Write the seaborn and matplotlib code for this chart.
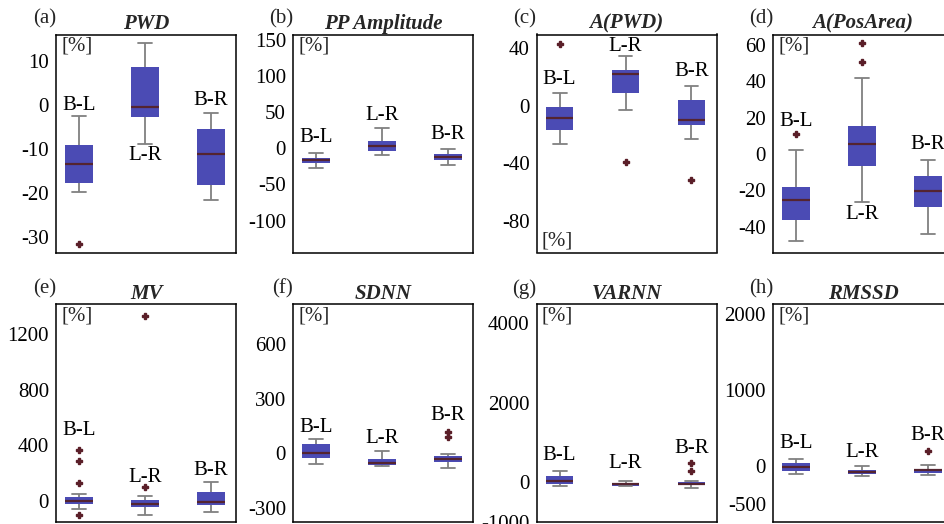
import numpy as np
import pandas as pd
import matplotlib
matplotlib.use("Agg")
import matplotlib.pyplot as plt
import seaborn as sns

groups = ["B-L", "L-R", "B-R"]

# five-number summaries per group: [lower whisker, Q1, median, Q3, upper whisker]
pwd_stats = [[-19.8, -17.6, -13.3, -9.1, -2.5], [-8.7, -2.6, -0.5, 8.6, 14.0], [-21.6, -18.1, -11.0, -5.5, -1.7]]
pwd_outliers = [[-31.4], [], []]
pp_stats = [[-27, -21, -16.7, -13, -6], [-9.7, -3.7, 2.8, 9.3, 27.5], [-23, -16.7, -12, -7.4, -1.4]]
pp_outliers = [[], [], []]
apwd_stats = [[-26.9, -17, -8.5, -0.9, 8.8], [-2.8, 8.8, 22, 24.3, 34], [-23, -13.3, -10.1, 4.1, 13.3]]
apwd_outliers = [[42.3], [-39.1], [-51.5]]
aposarea_stats = [[-47.7, -36.2, -25.3, -18.2, 2], [-26.4, -6.7, 5.6, 15.1, 41.5], [-43.7, -29.1, -20.4, -11.9, -3.4]]
aposarea_outliers = [[10.9], [61, 50.6], []]
mv_stats = [[-55, -19, 2, 29, 52], [-98, -38, -19, 12, 41], [-79, -27, -7, 65, 141]]
mv_outliers = [[370, 292, 131, -100], [1324, 105], []]
sdnn_stats = [[-60, -27, 4, 49, 77], [-71, -64, -51, -31, 11], [-82, -47, -29, -14, -2]]
sdnn_outliers = [[], [], [118, 88]]
varnn_stats = [[-100, -33, 33, 168, 277], [-100, -93, -55, -25, 42], [-134, -67, -33, 0, 25]]
varnn_outliers = [[], [], [478, 294]]
rmssd_stats = [[-105, -62, -9, 39, 96], [-122, -101, -75, -43, 9], [-109, -88, -52, -30, 17]]
rmssd_outliers = [[], [], [206]]

panel_letters = ["(a)", "(b)", "(c)", "(d)", "(e)", "(f)", "(g)", "(h)"]
panel_titles = ["PWD", "PP Amplitude", "A(PWD)", "A(PosArea)", "MV", "SDNN", "VARNN", "RMSSD"]
panel_stats = [pwd_stats, pp_stats, apwd_stats, aposarea_stats, mv_stats, sdnn_stats, varnn_stats, rmssd_stats]
panel_outliers = [pwd_outliers, pp_outliers, apwd_outliers, aposarea_outliers, mv_outliers,
                  sdnn_outliers, varnn_outliers, rmssd_outliers]
panel_ticks = [[-30, -20, -10, 0, 10], [-100, -50, 0, 50, 100, 150], [-80, -40, 0, 40],
               [-40, -20, 0, 20, 40, 60], [0, 400, 800, 1200], [-300, 0, 300, 600],
               [-1000, 0, 2000, 4000], [-500, 0, 1000, 2000]]

# layout / annotation placement (not data)
panel_ylims = [(-33.4, 16), (-144, 157), (-101.8, 49.2), (-54, 65.5),
               (-150, 1411), (-377, 816), (-1006, 4470), (-735, 2123)]
label_y = [[-0.15, -11.5, 1.0], [14.8, 44.9, 19.4], [17.9, 40.9, 23.7], [17.9, -33.2, 5.1],
           [507, 172, 220], [141, 80, 208], [672, 461, 838], [293, 184, 403]]
pct_bottom = [False, False, True, False, False, False, False, False]


def sample(stats, outs, k=20):
    lo, q1, med, q3, hi = stats
    return [lo] + [q1] * k + [med] * k + [q3] * k + [hi] + list(outs)


sns.set_theme(style="white")
plt.rcParams["font.family"] = ["Liberation Serif", "DejaVu Serif"]

W, H = 944, 524
fig = plt.figure(figsize=(W / 100, H / 100), dpi=100)
col_left = [56, 293, 536.5, 773]
col_w = 180
row_top = [34.5, 304.3]
row_h = 218

box_face = "#4B4BB4"
median_c = "#542430"
whisk_c = "#808080"
flier_c = "#5A1E28"
FS = 15

for i in range(8):
    r, c = divmod(i, 4)
    ax = fig.add_axes([col_left[c] / W, 1 - (row_top[r] + row_h) / H, col_w / W, row_h / H])
    rows = []
    for g, st, outs in zip(groups, panel_stats[i], panel_outliers[i]):
        for v in sample(st, outs):
            rows.append({"group": g, "value": v})
    df = pd.DataFrame(rows)
    sns.boxplot(data=df, x="group", y="value", order=groups, ax=ax, width=0.42,
                whis=1.5,
                boxprops=dict(facecolor=box_face, edgecolor=box_face, linewidth=0),
                medianprops=dict(color=median_c, linewidth=1.6),
                whiskerprops=dict(color=whisk_c, linewidth=1.3),
                capprops=dict(color=whisk_c, linewidth=1.3),
                flierprops=dict(marker="P", markersize=4.3, markerfacecolor=flier_c,
                                markeredgecolor=flier_c, linestyle="none"))
    ax.set_xlim(-0.35, 2.38)
    ax.set_ylim(*panel_ylims[i])
    ax.set_yticks(panel_ticks[i])
    ax.set_yticklabels([str(t) for t in panel_ticks[i]])
    ax.set_xticks([])
    ax.set_xlabel("")
    ax.set_ylabel("")
    ax.tick_params(axis="y", length=0, pad=5, labelsize=FS, colors="black")
    for sp in ax.spines.values():
        sp.set_visible(True)
        sp.set_color("black")
        sp.set_linewidth(1.1)
    ax.set_title(panel_titles[i], fontsize=FS, fontweight="bold", fontstyle="italic", pad=4)
    ax.annotate(panel_letters[i], xy=(0, 1), xycoords="axes fraction", xytext=(0, 4),
                textcoords="offset points", ha="right", va="bottom", fontsize=FS)
    for j, g in enumerate(groups):
        ax.text(j, label_y[i][j], g, ha="center", va="center", fontsize=FS, color="black")
    if pct_bottom[i]:
        ax.text(0.03, 0.01, "[%]", transform=ax.transAxes, ha="left", va="bottom", fontsize=FS)
    else:
        ax.text(0.03, 0.99, "[%]", transform=ax.transAxes, ha="left", va="top", fontsize=FS)

fig.savefig("out.png", dpi=100)
